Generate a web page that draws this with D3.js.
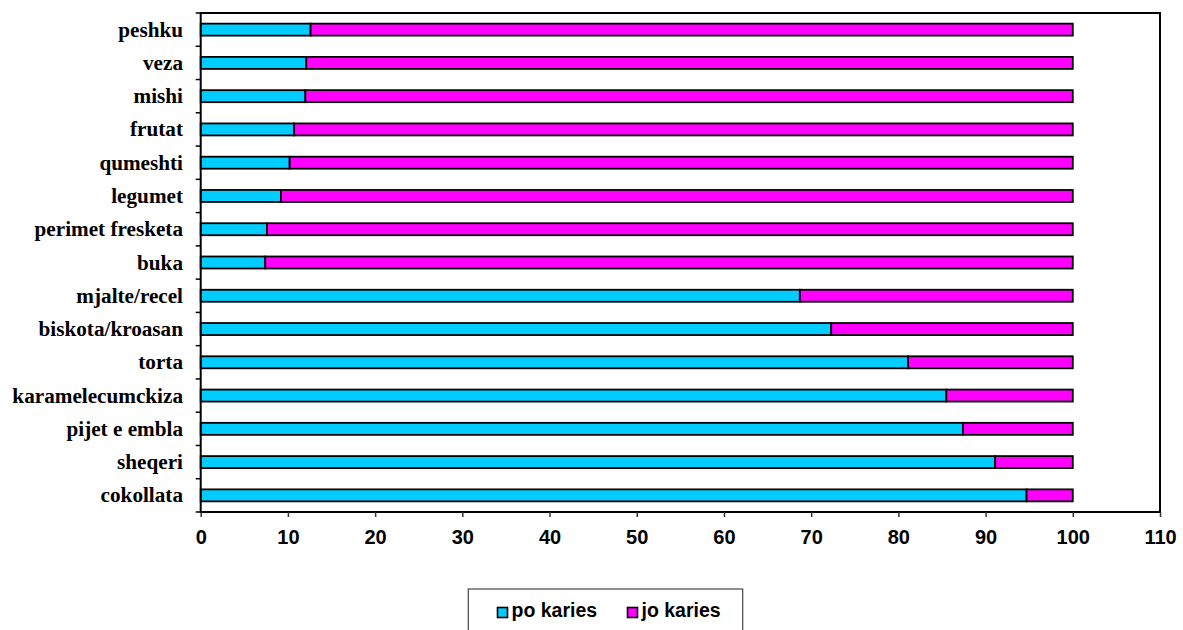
<!DOCTYPE html>
<html>
<head>
<meta charset="utf-8">
<script src="https://cdn.jsdelivr.net/npm/d3@7"></script>
<style>
  html, body { margin: 0; padding: 0; background: #fff; }
  svg { display: block; }
</style>
</head>
<body>
<svg id="chart" width="1183" height="630"></svg>
<script>
// Food categories, listed from the bottom bar upwards
const categories = [
  "cokollata", "sheqeri", "pijet e embla", "karamelecumckiza", "torta",
  "biskota/kroasan", "mjalte/recel", "buka", "perimet fresketa", "legumet",
  "qumeshti", "frutat", "mishi", "veza", "peshku"
];
// Share (%) of children with caries
const poKaries = [94.7, 91.1, 87.4, 85.5, 81.1, 72.3, 68.7, 7.4, 7.6, 9.2, 10.2, 10.7, 12.0, 12.1, 12.6];
// Share (%) of children without caries
const joKaries = [5.3, 8.9, 12.6, 14.5, 18.9, 27.7, 31.3, 92.6, 92.4, 90.8, 89.8, 89.3, 88.0, 87.9, 87.4];
const xTicks = [0, 10, 20, 30, 40, 50, 60, 70, 80, 90, 100, 110];
const seriesNames = ["po karies", "jo karies"];
const seriesColors = ["#00CCFF", "#FF00FF"];

const svg = d3.select("#chart");
const plot = { left: 200.7, right: 1160, top: 13, bottom: 512 };

const x = d3.scaleLinear().domain([0, 110]).range([plot.left, plot.right]);
const y = d3.scaleBand()
  .domain(categories.slice().reverse())
  .range([plot.top, plot.bottom])
  .paddingInner(0).paddingOuter(0);

const barH = 12;

const rows = categories.map((c, i) => ({ cat: c, po: poKaries[i], jo: joKaries[i] }));

// Stacked bars
const g = svg.append("g");
rows.forEach(r => {
  const cy = y(r.cat) + y.bandwidth() / 2;
  const segs = [
    { x0: 0, x1: r.po, color: seriesColors[0] },
    { x0: r.po, x1: r.po + r.jo, color: seriesColors[1] }
  ];
  segs.forEach(s => {
    g.append("rect")
      .attr("x", x(s.x0))
      .attr("y", cy - barH / 2)
      .attr("width", x(s.x1) - x(s.x0))
      .attr("height", barH)
      .attr("fill", s.color)
      .attr("stroke", "#000")
      .attr("stroke-width", 1.8);
  });
});

// Plot frame
svg.append("rect")
  .attr("x", plot.left).attr("y", plot.top)
  .attr("width", plot.right - plot.left).attr("height", plot.bottom - plot.top)
  .attr("fill", "none").attr("stroke", "#000").attr("stroke-width", 2);

// X axis
const xAxis = d3.axisBottom(x).tickValues(xTicks).tickSize(5).tickSizeOuter(0);
const xg = svg.append("g").attr("transform", `translate(0,${plot.bottom})`).call(xAxis);
xg.select(".domain").remove();
xg.selectAll(".tick line").attr("stroke", "#333").attr("stroke-width", 1.5);
xg.selectAll(".tick text")
  .attr("y", 0).attr("dy", 0)
  .attr("transform", "translate(0,32)")
  .attr("fill", "#000")
  .style("font-family", "'Liberation Sans', Arial, sans-serif")
  .style("font-weight", "bold")
  .style("font-size", "20px");

// Y axis: tick marks on category boundaries, labels centered in bands
const bounds = d3.range(categories.length + 1).map(i => plot.top + i * y.step());
svg.append("g").selectAll("line").data(bounds).join("line")
  .attr("x1", plot.left - 5).attr("x2", plot.left)
  .attr("y1", d => d).attr("y2", d => d)
  .attr("stroke", "#000").attr("stroke-width", 1.5);

svg.append("g").selectAll("text").data(categories).join("text")
  .attr("x", 183)
  .attr("y", d => y(d) + y.bandwidth() / 2 + 7)
  .attr("text-anchor", "end")
  .style("font-family", "'Liberation Serif', 'Times New Roman', serif")
  .style("font-weight", "bold")
  .style("font-size", "21.2px")
  .text(d => d);

// Legend
const lg = svg.append("g");
lg.append("rect")
  .attr("x", 468.3).attr("y", 589)
  .attr("width", 274.4).attr("height", 60)
  .attr("fill", "#fff").attr("stroke", "#444").attr("stroke-width", 1.2);
const legendItems = [
  { name: seriesNames[0], color: seriesColors[0], x: 497.5 },
  { name: seriesNames[1], color: seriesColors[1], x: 627.5 }
];
legendItems.forEach(it => {
  lg.append("rect")
    .attr("x", it.x).attr("y", 607.5)
    .attr("width", 10).attr("height", 10)
    .attr("fill", it.color).attr("stroke", "#000").attr("stroke-width", 1.6);
  lg.append("text")
    .attr("x", it.x + 14).attr("y", 617)
    .style("font-family", "'Liberation Sans', Arial, sans-serif")
    .style("font-weight", "bold")
    .style("font-size", "19.5px")
    .text(it.name);
});
</script>
</body>
</html>
